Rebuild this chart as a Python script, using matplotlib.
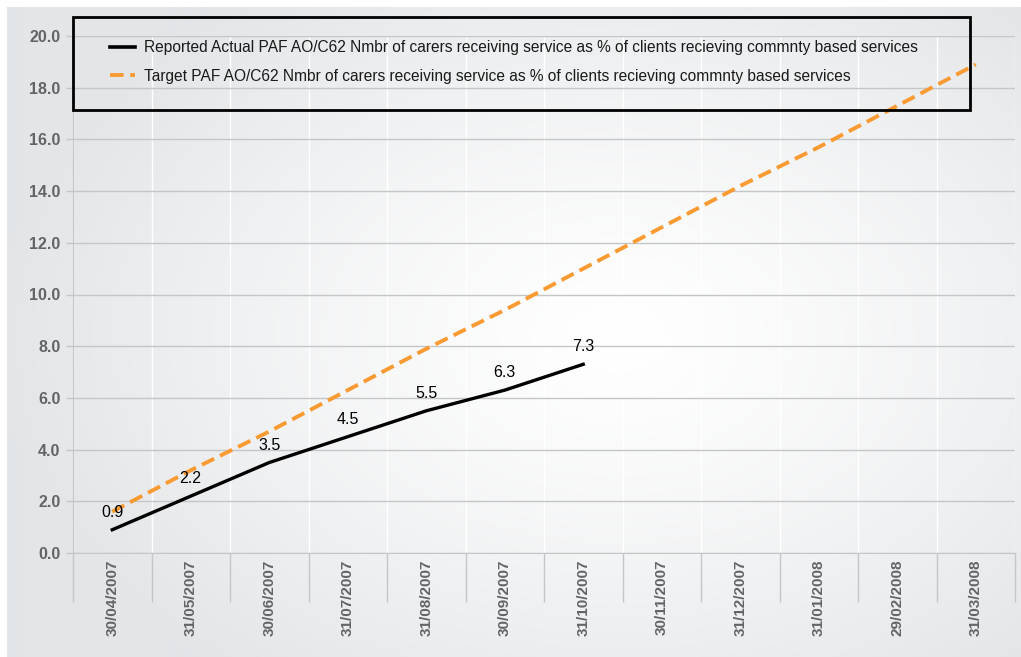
import matplotlib
matplotlib.use("Agg")
import matplotlib.pyplot as plt
from matplotlib.patches import Rectangle
from matplotlib.lines import Line2D
import numpy as np

plt.rcParams['font.family'] = ['Liberation Sans', 'DejaVu Sans']

# month-end reporting dates
DATES = ['30/04/2007', '31/05/2007', '30/06/2007', '31/07/2007', '31/08/2007',
         '30/09/2007', '31/10/2007', '30/11/2007', '31/12/2007', '31/01/2008',
         '29/02/2008', '31/03/2008']
ACTUAL = [0.9, 2.2, 3.5, 4.5, 5.5, 6.3, 7.3]
TARGET = [1.6, 3.2, 4.7, 6.3, 7.9, 9.4, 11.0, 12.6, 14.2, 15.7, 17.3, 18.9]

ACTUAL_LABEL = ("Reported Actual PAF AO/C62 Nmbr of carers receiving service as % "
                "of clients recieving commnty based services")
TARGET_LABEL = ("Target PAF AO/C62 Nmbr of carers receiving service as % "
                "of clients recieving commnty based services")

ORANGE = '#f99b32'
GRID = '#c4c6c8'
TICK_TEXT = '#636466'

W, H = 1021, 657
fig = plt.figure(figsize=(W / 100, H / 100), dpi=100)
fig.patch.set_facecolor('white')

# radial grey-to-white backdrop
bg = fig.add_axes([7 / W, 0, 1 - 7 / W, 1 - 7 / H], zorder=-5)
yy, xx = np.mgrid[0:650, 0:1014]
r = np.sqrt(((xx - 610) / 620.0) ** 2 + ((yy - 330) / 430.0) ** 2)
t = np.clip(r, 0, 1) ** 1.3
edge = np.array([227, 229, 231]) / 255.0
img = (1 - t)[..., None] * np.ones(3) + t[..., None] * edge
bg.imshow(img, aspect='auto', interpolation='bilinear')
bg.axis('off')

left, right = 73 / W, 1015 / W
bottom, top = 1 - 553 / H, 1 - 36 / H
ax = fig.add_axes([left, bottom, right - left, top - bottom])
ax.set_facecolor('none')

n = len(DATES)
xs_t = np.arange(n) + 0.5
xs_a = np.arange(len(ACTUAL)) + 0.5

ax.plot(xs_t, TARGET, color=ORANGE, lw=2.8, ls=(0, (3.5, 1.7)), zorder=3,
        solid_capstyle='butt', dash_capstyle='butt')
ax.plot(xs_a, ACTUAL, color='black', lw=2.4, zorder=4)

for x, v in zip(xs_a, ACTUAL):
    ax.annotate(f'{v:.1f}', (x, v), xytext=(0, 12.5), textcoords='offset points',
                ha='center', va='center', fontsize=11.5, color='black', zorder=5)

ax.set_xlim(0, n)
ax.set_ylim(0, 20)
ax.set_yticks(np.arange(0, 20.1, 2))
ax.set_yticklabels([f'{v:.1f}' for v in np.arange(0, 20.1, 2)])

ax.set_xticks(np.arange(n + 1))
ax.set_xticklabels([])
ax.set_xticks(xs_t, minor=True)
ax.set_xticklabels(DATES, minor=True, rotation=90, fontsize=11, fontweight='bold',
                   color=TICK_TEXT)
ax.tick_params(axis='x', which='major', length=35, width=1, color=GRID, direction='out')
ax.tick_params(axis='x', which='minor', length=0, pad=5)
ax.tick_params(axis='y', length=5, width=1, color=GRID, pad=4)
for lab in ax.get_yticklabels():
    lab.set_fontweight('bold')
    lab.set_fontsize(11.5)
    lab.set_color(TICK_TEXT)

ax.grid(axis='y', color=GRID, lw=1)
ax.grid(axis='x', which='major', color='white', lw=1)
ax.set_axisbelow(True)
for s in ['top', 'right']:
    ax.spines[s].set_visible(False)
ax.spines['left'].set_color(GRID)
ax.spines['bottom'].set_color(GRID)

# legend box drawn separately so it can sit over the top of the plot
fig.patches.append(Rectangle((73 / W, 1 - 110 / H), (970 - 73) / W, 93 / H,
                             transform=fig.transFigure, fill=False,
                             edgecolor='black', lw=2, zorder=10))
handles = [Line2D([], [], color='black', lw=2.6),
           Line2D([], [], color=ORANGE, lw=2.8, ls=(0, (3.5, 1.7)))]
fig.legend(handles, [ACTUAL_LABEL, TARGET_LABEL], loc='upper left',
           bbox_to_anchor=(110 / W, 1 - 40 / H), frameon=False, fontsize=11.2,
           handlelength=1.6, handletextpad=0.6, labelspacing=0.88, borderpad=0,
           borderaxespad=0, labelcolor='#1a1a1a')

fig.savefig('out.png', dpi=100)
